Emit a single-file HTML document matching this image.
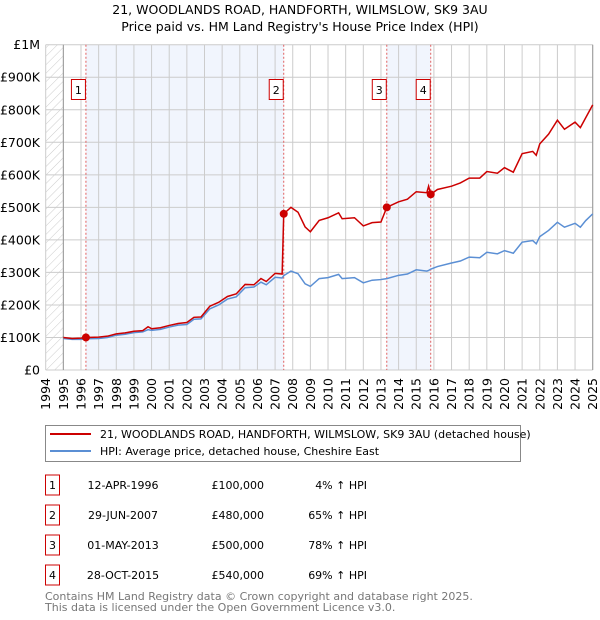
<!DOCTYPE html>
<html><head><meta charset="utf-8"><style>
body{margin:0;background:#fff;font-family:"DejaVu Sans","Liberation Sans",sans-serif;}
svg{display:block}
</style></head><body>
<svg id="c" width="600" height="620" viewBox="0 0 600 620" font-family="DejaVu Sans, Liberation Sans, sans-serif">
<defs><pattern id="hatch" width="6" height="6" patternUnits="userSpaceOnUse" patternTransform="rotate(45)"><line x1="0" y1="0" x2="0" y2="6" stroke="#ccc" stroke-width="1"/></pattern></defs>
<text x="300" y="14" text-anchor="middle" font-size="12.5" fill="#000">21, WOODLANDS ROAD, HANDFORTH, WILMSLOW, SK9 3AU</text>
<text x="300" y="31" text-anchor="middle" font-size="12.5" fill="#000">Price paid vs. HM Land Registry's House Price Index (HPI)</text>
<g id="plot"></g>
<g>
<rect x="45.5" y="425.5" width="475" height="36" fill="#fff" stroke="#888"/>
<line x1="50" y1="434" x2="91" y2="434" stroke="#cc0000" stroke-width="2"/>
<text x="100" y="438" font-size="11">21, WOODLANDS ROAD, HANDFORTH, WILMSLOW, SK9 3AU (detached house)</text>
<line x1="50" y1="451" x2="91" y2="451" stroke="#5b8fd4" stroke-width="2"/>
<text x="100" y="455" font-size="11">HPI: Average price, detached house, Cheshire East</text>
</g>
<g id="table" font-size="11"></g>
<text x="45" y="600" font-size="11" fill="#777">Contains HM Land Registry data © Crown copyright and database right 2025.</text>
<text x="45" y="611" font-size="11" fill="#777">This data is licensed under the Open Government Licence v3.0.</text>
</svg>
<script>
const years=[1995.0,1995.5,1996.0,1996.28,1997.0,1997.5,1998.0,1998.5,1999.0,1999.5,1999.8,2000.0,2000.5,2001.0,2001.5,2002.0,2002.4,2002.8,2003.3,2003.8,2004.3,2004.8,2005.3,2005.8,2006.2,2006.5,2007.0,2007.4,2007.49,2007.9,2008.3,2008.7,2009.0,2009.5,2010.0,2010.6,2010.8,2011.5,2012.0,2012.5,2013.0,2013.33,2014.0,2014.5,2015.0,2015.6,2015.7,2015.82,2016.2,2017.0,2017.5,2018.0,2018.6,2019.0,2019.6,2020.0,2020.5,2021.0,2021.6,2021.8,2022.0,2022.5,2023.0,2023.4,2024.0,2024.3,2024.6,2025.0];
const hpiValues=[97,94,94,96,97,100,107,110,115,117,124,122,125,132,138,140,156,157,188,200,218,225,253,255,270,262,285,283,290,304,296,265,257,281,284,294,281,284,268,276,278,281,291,295,308,304,306,310,318,329,335,347,345,362,357,367,359,393,398,388,410,429,454,439,451,439,459,480];
const propertyValues=[100,97,98,100,101,104,111,114,119,121,133,127,130,137,143,146,162,163,196,208,226,234,263,262,281,272,297,295,480,500,485,440,425,460,468,483,465,468,443,453,455,500,517,525,548,545,565,540,555,565,575,590,590,610,605,622,608,665,672,660,695,725,768,740,762,745,775,815];
const saleLabels=["1","2","3","4"];
const saleYears=[1996.28,2007.49,2013.33,2015.82];
const saleValues=[100,480,500,540];
const saleDates=["12-APR-1996","29-JUN-2007","01-MAY-2013","28-OCT-2015"];
const salePrices=["£100,000","£480,000","£500,000","£540,000"];
const saleHpi=["4% ↑ HPI","65% ↑ HPI","78% ↑ HPI","69% ↑ HPI"];
const yTicks=[0,100,200,300,400,500,600,700,800,900,1000];
const yTickLabels=["£0","£100K","£200K","£300K","£400K","£500K","£600K","£700K","£800K","£900K","£1M"];
const xTicks=[1994,1995,1996,1997,1998,1999,2000,2001,2002,2003,2004,2005,2006,2007,2008,2009,2010,2011,2012,2013,2014,2015,2016,2017,2018,2019,2020,2021,2022,2023,2024,2025];

const NS="http://www.w3.org/2000/svg";
const X0=45.7,X1=592.7,Y0=370,Y1=44.7;
const xs=y=>X0+(y-1994)/31*(X1-X0);
const ys=v=>Y0-v/1000*(Y0-Y1);
function mk(tag,attrs,parent){const e=document.createElementNS(NS,tag);for(const k in attrs)e.setAttribute(k,attrs[k]);parent.appendChild(e);return e;}
const plot=document.getElementById('plot');
const bg=mk('rect',{x:X0,y:Y1,width:X1-X0,height:Y0-Y1,fill:'#fff'},plot);


const hatch=mk('rect',{x:X0,y:Y1,width:xs(1995)-X0,height:Y0-Y1,fill:'url(#hatch)'},plot);


[[0,1],[2,3]].forEach(([a,b],i)=>{
 const r=mk('rect',{x:xs(saleYears[a]),y:Y1,width:xs(saleYears[b])-xs(saleYears[a]),height:Y0-Y1,fill:'#eef3fc',opacity:0.8},plot);
 
 
});
yTicks.forEach((t,i)=>{
 const l=mk('line',{x1:X0,x2:X1,y1:ys(t),y2:ys(t),stroke:'#ccc','stroke-width':1},plot);
 
 
 const tx=mk('text',{x:40,y:ys(t)+4.5,'text-anchor':'end','font-size':12.5},plot);
 tx.textContent=yTickLabels[i];
 
 
});
xTicks.forEach(t=>{
 const l=mk('line',{x1:xs(t),x2:xs(t),y1:Y1,y2:Y0,stroke:'#ccc','stroke-width':1},plot);
 
 
 const tx=mk('text',{x:0,y:0,'text-anchor':'end','font-size':12.5,transform:`translate(${xs(t)+4.5},378) rotate(-90)`},plot);
 tx.textContent=String(t);
 
 
});
const ax=mk('line',{x1:xs(1995),x2:xs(1995),y1:Y1,y2:Y0,stroke:'#999','stroke-width':1},plot);


const ax2=mk('line',{x1:X1,x2:X1,y1:Y1,y2:Y0,stroke:'#999','stroke-width':1},plot);


saleYears.forEach((s,i)=>{
 const l=mk('line',{x1:xs(s),x2:xs(s),y1:Y1,y2:Y0,stroke:'#e06060','stroke-width':1,'stroke-dasharray':'2,2'},plot);
 
 
 const b=mk('rect',{x:xs(s)-14.5,y:79.5,width:14,height:20,fill:'#fff',stroke:'#cc0000'},plot);
 
 
 const t=mk('text',{x:xs(s)-7.5,y:94,'text-anchor':'middle','font-size':11},plot);
 t.textContent=saleLabels[i];
 
 
});
const hp=mk('polyline',{points:years.map((y,i)=>xs(y)+','+ys(hpiValues[i])).join(' '),fill:'none',stroke:'#5b8fd4','stroke-width':1.5},plot);


const pp=mk('polyline',{points:years.map((y,i)=>xs(y)+','+ys(propertyValues[i])).join(' '),fill:'none',stroke:'#cc0000','stroke-width':1.5},plot);


saleYears.forEach((s,i)=>{
 const c=mk('circle',{cx:xs(s),cy:ys(saleValues[i]),r:4,fill:'#cc0000'},plot);
 
 
});
const tb=document.getElementById('table');
saleLabels.forEach((lab,i)=>{
 const cy=485+i*30;
 const r=mk('rect',{x:45.5,y:cy-10,width:14,height:20,fill:'#fff',stroke:'#cc0000'},tb);
 
 
 const cells=[[52.5,'middle',lab],[123,'middle',saleDates[i]],[264,'end',salePrices[i]],[367,'end',saleHpi[i]]];
 cells.forEach(([x,a,t],j)=>{
  const e=mk('text',{x:x,y:cy+4,'text-anchor':a},tb);
  e.textContent=t;
  
  
 });
});
</script>
</body></html>
